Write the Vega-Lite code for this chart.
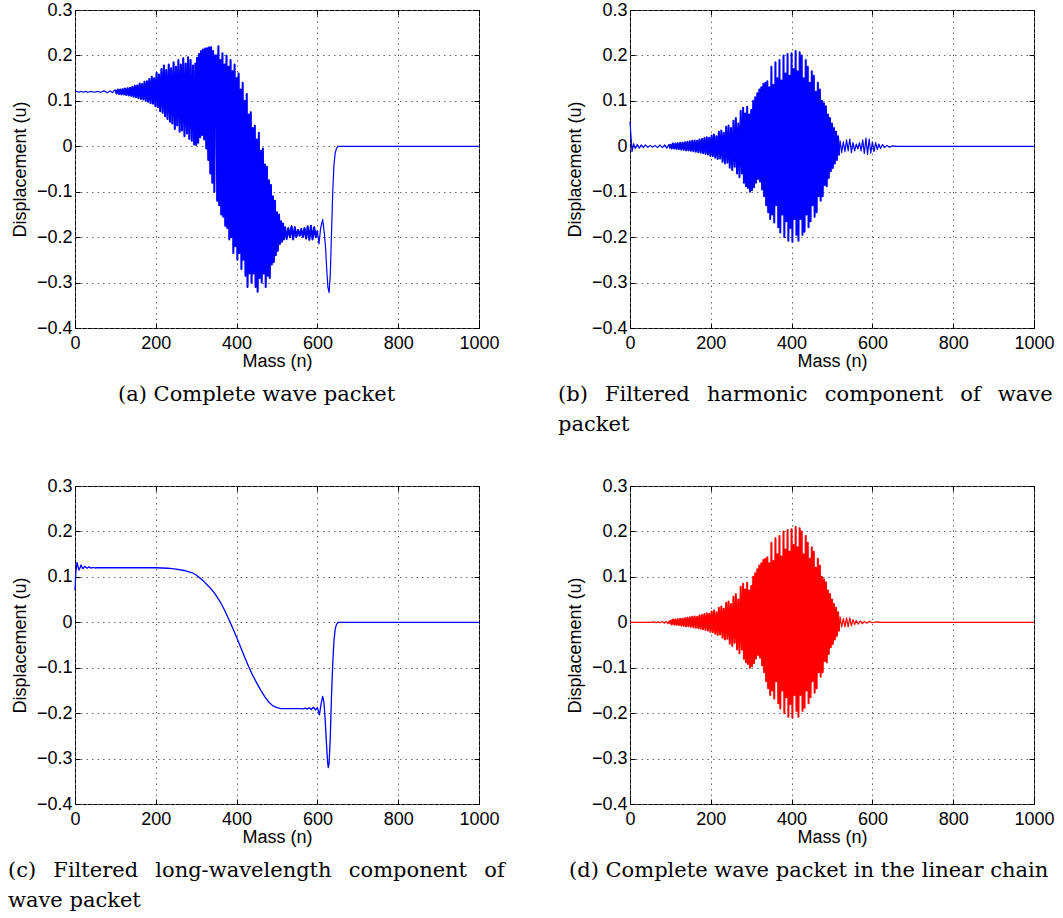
{
"$schema":"https://vega.github.io/schema/vega-lite/v6.json",
"padding":{"left":7,"top":0,"right":0,"bottom":0},
"background":"white",
"config":{
 "view":{"stroke":"#000","strokeWidth":1},
 "axis":{"labelFont":"Liberation Sans","labelFontSize":18,"labelColor":"#000","titleFont":"Liberation Sans","titleFontSize":18,"titleFontWeight":"normal","titleColor":"#000","domain":false,"tickColor":"#000","tickWidth":1,"tickSize":-5,"gridColor":"#666","gridDash":[1.5,4],"gridWidth":1,"labelFlush":false,"labelOverlap":false,"labelBound":false},
 "title":{"orient":"bottom","anchor":"start","frame":"group","font":"DejaVu Serif","fontSize":21,"fontWeight":"normal","color":"#000","offset":14,"lineHeight":30}
},
"datasets":{
"pk":[{"n":100,"u":0.005},{"n":103,"u":-0.005},{"n":106,"u":0.006},{"n":109,"u":-0.005},{"n":112,"u":0.006},{"n":115,"u":-0.006},{"n":118,"u":0.007},{"n":121,"u":-0.006},{"n":124,"u":0.008},{"n":127,"u":-0.007},{"n":130,"u":0.008},{"n":133,"u":-0.008},{"n":136,"u":0.009},{"n":139,"u":-0.009},{"n":142,"u":0.01},{"n":145,"u":-0.009},{"n":148,"u":0.011},{"n":151,"u":-0.01},{"n":154,"u":0.012},{"n":157,"u":-0.011},{"n":160,"u":0.013},{"n":163,"u":-0.012},{"n":166,"u":0.012},{"n":169,"u":-0.013},{"n":172,"u":0.015},{"n":175,"u":-0.014},{"n":178,"u":0.016},{"n":181,"u":-0.015},{"n":184,"u":0.018},{"n":187,"u":-0.017},{"n":190,"u":0.02},{"n":193,"u":-0.018},{"n":196,"u":0.019},{"n":199,"u":-0.021},{"n":202,"u":0.024},{"n":205,"u":-0.022},{"n":208,"u":0.026},{"n":211,"u":-0.025},{"n":214,"u":0.022},{"n":217,"u":-0.028},{"n":220,"u":0.032},{"n":223,"u":-0.027},{"n":226,"u":0.035},{"n":229,"u":-0.034},{"n":232,"u":0.03},{"n":235,"u":-0.038},{"n":238,"u":0.043},{"n":241,"u":-0.036},{"n":244,"u":0.046},{"n":247,"u":-0.047},{"n":250,"u":0.04},{"n":253,"u":-0.052},{"n":256,"u":0.056},{"n":259,"u":-0.045},{"n":262,"u":0.062},{"n":265,"u":-0.06},{"n":268,"u":0.05},{"n":271,"u":-0.068},{"n":274,"u":0.078},{"n":277,"u":-0.06},{"n":280,"u":0.085},{"n":282,"u":-0.08},{"n":285,"u":0.072},{"n":287,"u":-0.088},{"n":290,"u":0.087},{"n":292,"u":-0.092},{"n":295,"u":0.07},{"n":297,"u":-0.1},{"n":300,"u":0.08},{"n":302,"u":-0.097},{"n":305,"u":0.1},{"n":307,"u":-0.09},{"n":310,"u":0.108},{"n":312,"u":-0.08},{"n":315,"u":0.117},{"n":317,"u":-0.072},{"n":320,"u":0.125},{"n":322,"u":-0.078},{"n":325,"u":0.13},{"n":327,"u":-0.095},{"n":330,"u":0.137},{"n":332,"u":-0.11},{"n":335,"u":0.14},{"n":337,"u":-0.13},{"n":340,"u":0.143},{"n":342,"u":-0.145},{"n":345,"u":0.13},{"n":347,"u":-0.16},{"n":350,"u":0.175},{"n":352,"u":-0.15},{"n":355,"u":0.135},{"n":357,"u":-0.168},{"n":360,"u":0.185},{"n":362,"u":-0.13},{"n":365,"u":0.15},{"n":367,"u":-0.178},{"n":370,"u":0.19},{"n":372,"u":-0.19},{"n":375,"u":0.145},{"n":377,"u":-0.15},{"n":380,"u":0.2},{"n":382,"u":-0.2},{"n":385,"u":0.16},{"n":387,"u":-0.165},{"n":390,"u":0.203},{"n":392,"u":-0.208},{"n":395,"u":0.155},{"n":397,"u":-0.18},{"n":400,"u":0.205},{"n":402,"u":-0.21},{"n":405,"u":0.17},{"n":407,"u":-0.16},{"n":410,"u":0.21},{"n":412,"u":-0.195},{"n":415,"u":0.165},{"n":417,"u":-0.208},{"n":420,"u":0.207},{"n":422,"u":-0.16},{"n":425,"u":0.2},{"n":427,"u":-0.195},{"n":430,"u":0.15},{"n":432,"u":-0.188},{"n":435,"u":0.19},{"n":437,"u":-0.15},{"n":440,"u":0.175},{"n":442,"u":-0.178},{"n":445,"u":0.14},{"n":447,"u":-0.165},{"n":450,"u":0.165},{"n":452,"u":-0.13},{"n":455,"u":0.155},{"n":457,"u":-0.155},{"n":460,"u":0.12},{"n":462,"u":-0.145},{"n":465,"u":0.14},{"n":467,"u":-0.11},{"n":470,"u":0.125},{"n":472,"u":-0.12},{"n":475,"u":0.1},{"n":477,"u":-0.11},{"n":480,"u":0.095},{"n":482,"u":-0.085},{"n":485,"u":0.088},{"n":487,"u":-0.088},{"n":490,"u":0.07},{"n":492,"u":-0.07},{"n":495,"u":0.062},{"n":497,"u":-0.055},{"n":500,"u":0.05},{"n":502,"u":-0.048},{"n":505,"u":0.04},{"n":507,"u":-0.038},{"n":510,"u":0.032},{"n":512,"u":-0.03},{"n":515,"u":0.022},{"n":517,"u":-0.02}],
"bt":[{"g":1,"n":0,"u":0.055},{"g":1,"n":5,"u":-0.012},{"g":1,"n":9,"u":0.006},{"g":1,"n":13,"u":-0.005},{"g":1,"n":18,"u":0.004},{"g":1,"n":23,"u":-0.004},{"g":1,"n":28,"u":0.003},{"g":1,"n":33,"u":-0.003},{"g":1,"n":38,"u":0.003},{"g":1,"n":44,"u":-0.002},{"g":1,"n":50,"u":0.002},{"g":1,"n":56,"u":-0.002},{"g":1,"n":62,"u":0.002},{"g":1,"n":68,"u":-0.003},{"g":1,"n":74,"u":0.003},{"g":1,"n":80,"u":-0.003},{"g":1,"n":86,"u":0.003},{"g":1,"n":91,"u":-0.004},{"g":1,"n":96,"u":0.004},{"g":1,"n":98,"u":-0.004},{"g":1,"n":100,"u":0.005},
{"g":2,"n":517,"u":-0.02},{"g":2,"n":520,"u":0.012},{"g":2,"n":524,"u":-0.014},{"g":2,"n":528,"u":0.01},{"g":2,"n":532,"u":-0.012},{"g":2,"n":536,"u":0.014},{"g":2,"n":540,"u":-0.01},{"g":2,"n":544,"u":0.016},{"g":2,"n":548,"u":-0.014},{"g":2,"n":552,"u":0.008},{"g":2,"n":556,"u":-0.01},{"g":2,"n":560,"u":0.005},{"g":2,"n":564,"u":-0.006},{"g":2,"n":568,"u":0.008},{"g":2,"n":572,"u":-0.01},{"g":2,"n":576,"u":0.014},{"g":2,"n":580,"u":-0.016},{"g":2,"n":584,"u":0.018},{"g":2,"n":588,"u":-0.018},{"g":2,"n":592,"u":0.016},{"g":2,"n":596,"u":-0.015},{"g":2,"n":600,"u":0.01},{"g":2,"n":604,"u":-0.012},{"g":2,"n":608,"u":0.008},{"g":2,"n":612,"u":-0.007},{"g":2,"n":616,"u":0.005},{"g":2,"n":620,"u":-0.005},{"g":2,"n":625,"u":0.004},{"g":2,"n":630,"u":-0.003},{"g":2,"n":636,"u":0.002},{"g":2,"n":642,"u":-0.002},{"g":2,"n":650,"u":0.001},{"g":2,"n":660,"u":0},{"g":2,"n":1000,"u":0}],
"dt":[{"g":1,"n":0,"u":0},{"g":1,"n":50,"u":0},{"g":1,"n":60,"u":0.001},{"g":1,"n":65,"u":-0.001},{"g":1,"n":70,"u":0.001},{"g":1,"n":75,"u":-0.001},{"g":1,"n":80,"u":0.002},{"g":1,"n":85,"u":-0.002},{"g":1,"n":90,"u":0.002},{"g":1,"n":94,"u":-0.003},{"g":1,"n":97,"u":0.003},{"g":1,"n":98.5,"u":-0.003},{"g":1,"n":100,"u":0.005},
{"g":2,"n":517,"u":-0.02},{"g":2,"n":520,"u":0.012},{"g":2,"n":524,"u":-0.01},{"g":2,"n":528,"u":0.008},{"g":2,"n":532,"u":-0.01},{"g":2,"n":536,"u":0.01},{"g":2,"n":540,"u":-0.01},{"g":2,"n":544,"u":0.01},{"g":2,"n":548,"u":-0.008},{"g":2,"n":552,"u":0.006},{"g":2,"n":556,"u":-0.005},{"g":2,"n":560,"u":0.004},{"g":2,"n":565,"u":-0.004},{"g":2,"n":570,"u":0.003},{"g":2,"n":575,"u":-0.003},{"g":2,"n":580,"u":0.002},{"g":2,"n":586,"u":-0.002},{"g":2,"n":592,"u":0.002},{"g":2,"n":600,"u":-0.001},{"g":2,"n":610,"u":0.001},{"g":2,"n":620,"u":0},{"g":2,"n":1000,"u":0}],
"a":[{"n":0,"u":0.12},{"n":5,"u":0.121},{"n":10,"u":0.119},{"n":15,"u":0.121},{"n":20,"u":0.119},{"n":26,"u":0.121},{"n":32,"u":0.119},{"n":40,"u":0.121},{"n":48,"u":0.119},{"n":56,"u":0.121},{"n":64,"u":0.119},{"n":72,"u":0.122},{"n":80,"u":0.118},{"n":87,"u":0.122},{"n":93,"u":0.118},{"n":97,"u":0.123},
{"n":100,"u":0.124},{"n":103,"u":0.116},{"n":106,"u":0.125},{"n":109,"u":0.115},{"n":112,"u":0.125},{"n":115,"u":0.114},{"n":118,"u":0.126},{"n":121,"u":0.114},{"n":124,"u":0.127},{"n":127,"u":0.113},{"n":130,"u":0.128},{"n":133,"u":0.112},{"n":136,"u":0.129},{"n":139,"u":0.111},{"n":142,"u":0.131},{"n":145,"u":0.109},{"n":148,"u":0.133},{"n":151,"u":0.108},{"n":154,"u":0.134},{"n":157,"u":0.106},{"n":160,"u":0.138},{"n":163,"u":0.104},{"n":166,"u":0.137},{"n":169,"u":0.103},{"n":172,"u":0.142},{"n":175,"u":0.1},{"n":178,"u":0.143},{"n":181,"u":0.098},{"n":184,"u":0.148},{"n":187,"u":0.095},{"n":190,"u":0.153},{"n":193,"u":0.094},{"n":196,"u":0.15},{"n":199,"u":0.088},{"n":202,"u":0.162},{"n":205,"u":0.086},{"n":208,"u":0.158},{"n":211,"u":0.077},{"n":214,"u":0.17},{"n":217,"u":0.074},{"n":220,"u":0.178},{"n":223,"u":0.066},{"n":226,"u":0.168},{"n":229,"u":0.06},{"n":232,"u":0.18},{"n":235,"u":0.054},{"n":238,"u":0.172},{"n":241,"u":0.05},{"n":244,"u":0.185},{"n":247,"u":0.038},{"n":250,"u":0.175},{"n":253,"u":0.046},{"n":256,"u":0.19},{"n":259,"u":0.032},{"n":262,"u":0.18},{"n":265,"u":0.035},{"n":268,"u":0.194},{"n":271,"u":0.022},{"n":274,"u":0.182},{"n":277,"u":0.028},{"n":280,"u":0.196},{"n":283,"u":0.016},{"n":286,"u":0.19},{"n":289,"u":0.012},{"n":292,"u":0.178},{"n":295,"u":0.004},{"n":298,"u":0.182},
{"n":300,"u":0.003},{"n":302,"u":0.195},{"n":305,"u":0.008},{"n":307,"u":0.203},{"n":310,"u":0.02},{"n":312,"u":0.21},{"n":315,"u":0.025},{"n":317,"u":0.213},{"n":320,"u":0.015},{"n":322,"u":0.215},{"n":325,"u":-0.005},{"n":327,"u":0.216},{"n":330,"u":-0.03},{"n":332,"u":0.218},{"n":335,"u":-0.06},{"n":337,"u":0.218},{"n":340,"u":-0.08},{"n":342,"u":0.21},{"n":345,"u":-0.1},{"n":347,"u":0.2},
{"n":350,"u":0.2},{"n":352,"u":-0.12},{"n":355,"u":0.22},{"n":357,"u":-0.13},{"n":360,"u":0.19},{"n":362,"u":-0.15},{"n":365,"u":0.205},{"n":367,"u":-0.155},{"n":370,"u":0.18},{"n":372,"u":-0.175},{"n":375,"u":0.2},{"n":377,"u":-0.18},{"n":380,"u":0.175},{"n":382,"u":-0.205},{"n":385,"u":0.19},{"n":387,"u":-0.2},{"n":390,"u":0.165},{"n":392,"u":-0.235},{"n":395,"u":0.18},{"n":397,"u":-0.22},{"n":400,"u":0.15},{"n":402,"u":-0.25},{"n":405,"u":0.16},{"n":407,"u":-0.235},{"n":410,"u":0.125},{"n":412,"u":-0.27},{"n":415,"u":0.14},{"n":417,"u":-0.25},{"n":420,"u":0.1},{"n":422,"u":-0.285},{"n":425,"u":0.115},{"n":427,"u":-0.31},{"n":430,"u":0.07},{"n":432,"u":-0.28},{"n":435,"u":0.075},{"n":437,"u":-0.3},{"n":440,"u":0.04},{"n":442,"u":-0.28},{"n":445,"u":0.045},{"n":447,"u":-0.31},{"n":450,"u":0.015},{"n":452,"u":-0.32},{"n":455,"u":0.03},{"n":457,"u":-0.29},{"n":460,"u":-0.01},{"n":462,"u":-0.3},{"n":465,"u":-0.005},{"n":467,"u":-0.28},{"n":470,"u":-0.04},{"n":472,"u":-0.31},{"n":475,"u":-0.045},{"n":477,"u":-0.285},{"n":480,"u":-0.075},{"n":482,"u":-0.29},{"n":485,"u":-0.085},{"n":487,"u":-0.26},{"n":490,"u":-0.11},{"n":492,"u":-0.255},{"n":495,"u":-0.12},{"n":497,"u":-0.24},{"n":500,"u":-0.145},{"n":502,"u":-0.23},{"n":505,"u":-0.15},{"n":507,"u":-0.215},{"n":510,"u":-0.165},{"n":512,"u":-0.21},{"n":515,"u":-0.17},{"n":517,"u":-0.205},
{"n":520,"u":-0.178},{"n":524,"u":-0.204},{"n":528,"u":-0.18},{"n":532,"u":-0.2},{"n":536,"u":-0.176},{"n":540,"u":-0.205},{"n":544,"u":-0.178},{"n":548,"u":-0.2},{"n":552,"u":-0.184},{"n":556,"u":-0.197},{"n":560,"u":-0.182},{"n":564,"u":-0.2},{"n":568,"u":-0.18},{"n":572,"u":-0.203},{"n":576,"u":-0.176},{"n":580,"u":-0.206},{"n":584,"u":-0.175},{"n":588,"u":-0.205},{"n":592,"u":-0.178},{"n":596,"u":-0.2},{"n":600,"u":-0.186},{"n":604,"u":-0.215},{"n":608,"u":-0.18},{"n":613,"u":-0.161},{"n":617,"u":-0.19},{"n":620,"u":-0.22},{"n":623,"u":-0.27},{"n":626,"u":-0.31},{"n":629,"u":-0.322},{"n":632,"u":-0.28},{"n":635,"u":-0.19},{"n":638,"u":-0.1},{"n":641,"u":-0.04},{"n":644,"u":-0.015},{"n":647,"u":-0.005},{"n":651,"u":0},{"n":660,"u":0},{"n":1000,"u":0}],
"c":[{"n":0,"u":0.07},{"n":2,"u":0.11},{"n":5,"u":0.132},{"n":8,"u":0.121},{"n":10,"u":0.115},{"n":12,"u":0.119},{"n":15,"u":0.126},{"n":18,"u":0.12},{"n":20,"u":0.118},{"n":23,"u":0.122},{"n":25,"u":0.123},{"n":28,"u":0.12},{"n":30,"u":0.119},{"n":33,"u":0.121},{"n":35,"u":0.122},{"n":38,"u":0.12},{"n":41,"u":0.1195},{"n":45,"u":0.121},{"n":50,"u":0.1195},{"n":55,"u":0.1205},{"n":62,"u":0.12},{"n":100,"u":0.12},{"n":200,"u":0.12},{"n":230,"u":0.119},{"n":250,"u":0.117},{"n":270,"u":0.114},{"n":290,"u":0.109},{"n":300,"u":0.104},{"n":310,"u":0.097},{"n":320,"u":0.089},{"n":330,"u":0.08},{"n":340,"u":0.07},{"n":350,"u":0.058},{"n":360,"u":0.044},{"n":370,"u":0.027},{"n":380,"u":0.008},{"n":390,"u":-0.012},{"n":400,"u":-0.033},{"n":410,"u":-0.055},{"n":420,"u":-0.077},{"n":430,"u":-0.098},{"n":440,"u":-0.117},{"n":450,"u":-0.134},{"n":460,"u":-0.15},{"n":470,"u":-0.164},{"n":480,"u":-0.176},{"n":490,"u":-0.184},{"n":500,"u":-0.188},{"n":510,"u":-0.19},{"n":560,"u":-0.19},{"n":565,"u":-0.1905},{"n":570,"u":-0.189},{"n":575,"u":-0.191},{"n":580,"u":-0.188},{"n":585,"u":-0.192},{"n":590,"u":-0.187},{"n":595,"u":-0.193},{"n":600,"u":-0.188},{"n":605,"u":-0.204},{"n":609,"u":-0.18},{"n":613,"u":-0.163},{"n":616,"u":-0.175},{"n":619,"u":-0.21},{"n":622,"u":-0.26},{"n":625,"u":-0.305},{"n":627,"u":-0.32},{"n":629,"u":-0.31},{"n":632,"u":-0.25},{"n":635,"u":-0.16},{"n":638,"u":-0.09},{"n":641,"u":-0.04},{"n":644,"u":-0.015},{"n":647,"u":-0.005},{"n":651,"u":0},{"n":1000,"u":0}]
},
"columns":2,
"spacing":{"row":158,"column":151},
"bounds":"flush",
"concat":[
{"width":404,"height":318,
 "title":{"text":"(a) Complete wave packet","dx":43},
 "layer":[
  {"data":{"name":"a"},"mark":{"type":"line","color":"#0000ff","strokeWidth":1.2,"strokeJoin":"round"},
   "encoding":{"x":{"field":"n","type":"quantitative","scale":{"domain":[0,1000],"nice":false,"zero":false},"axis":{"orient":"bottom","values":[0,200,400,600,800,1000],"format":"d","title":"Mass (n)","labelPadding":11,"titlePadding":0,"grid":true}},
               "y":{"field":"u","type":"quantitative","scale":{"domain":[-0.4,0.3],"nice":false,"zero":false},"axis":{"orient":"left","values":[-0.4,-0.3,-0.2,-0.1,0,0.1,0.2,0.3],"labelExpr":"datum.value == 0 ? '0' : format(datum.value, '.1f')","title":"Displacement (u)","labelPadding":8,"titlePadding":7,"grid":true}}}},
  {"data":{"name":"a"},"transform":[{"filter":"datum.n >= 100 && datum.n <= 600"}],"mark":{"type":"line","color":"#0000ff","strokeWidth":2,"strokeJoin":"round"},
   "encoding":{"x":{"field":"n","type":"quantitative","axis":null},"y":{"field":"u","type":"quantitative","axis":null}}},
  {"data":{"values":[{"n":0,"u":0}]},"mark":{"type":"point","opacity":0},
   "encoding":{"x":{"field":"n","type":"quantitative","scale":{"domain":[0,1000],"nice":false,"zero":false},"axis":{"orient":"top","values":[0,200,400,600,800,1000],"labels":false,"title":null,"grid":false}},
               "y":{"field":"u","type":"quantitative","scale":{"domain":[-0.4,0.3],"nice":false,"zero":false},"axis":{"orient":"right","values":[-0.4,-0.3,-0.2,-0.1,0,0.1,0.2,0.3],"labels":false,"title":null,"grid":false}}}}
 ],
 "resolve":{"axis":{"x":"independent","y":"independent"}}},
{"width":404,"height":318,
 "title":{"text":["(b)\u2002 Filtered\u2002 harmonic\u2002 component\u2002 of\u2002 wave","packet"],"dx":-72},
 "layer":[
  {"data":{"name":"pk"},"mark":{"type":"line","color":"#0000ff","strokeWidth":2,"strokeJoin":"round"},
   "encoding":{"x":{"field":"n","type":"quantitative","scale":{"domain":[0,1000],"nice":false,"zero":false},"axis":{"orient":"bottom","values":[0,200,400,600,800,1000],"format":"d","title":"Mass (n)","labelPadding":11,"titlePadding":0,"grid":true}},
               "y":{"field":"u","type":"quantitative","scale":{"domain":[-0.4,0.3],"nice":false,"zero":false},"axis":{"orient":"left","values":[-0.4,-0.3,-0.2,-0.1,0,0.1,0.2,0.3],"labelExpr":"datum.value == 0 ? '0' : format(datum.value, '.1f')","title":"Displacement (u)","labelPadding":8,"titlePadding":7,"grid":true}}}},
  {"data":{"name":"bt"},"mark":{"type":"line","color":"#0000ff","strokeWidth":1.2,"strokeJoin":"round"},
   "encoding":{"x":{"field":"n","type":"quantitative","axis":null},"y":{"field":"u","type":"quantitative","axis":null},"detail":{"field":"g"}}},
  {"data":{"values":[{"n":0,"u":0}]},"mark":{"type":"point","opacity":0},
   "encoding":{"x":{"field":"n","type":"quantitative","scale":{"domain":[0,1000],"nice":false,"zero":false},"axis":{"orient":"top","values":[0,200,400,600,800,1000],"labels":false,"title":null,"grid":false}},
               "y":{"field":"u","type":"quantitative","scale":{"domain":[-0.4,0.3],"nice":false,"zero":false},"axis":{"orient":"right","values":[-0.4,-0.3,-0.2,-0.1,0,0.1,0.2,0.3],"labels":false,"title":null,"grid":false}}}}
 ],
 "resolve":{"axis":{"x":"independent","y":"independent"}}},
{"width":404,"height":318,
 "title":{"text":["(c)\u2002 Filtered\u2002 long-wavelength\u2002 component\u2002 of","wave packet"],"dx":-67},
 "layer":[
  {"data":{"name":"c"},"mark":{"type":"line","color":"#0000ff","strokeWidth":1.3,"strokeJoin":"round"},
   "encoding":{"x":{"field":"n","type":"quantitative","scale":{"domain":[0,1000],"nice":false,"zero":false},"axis":{"orient":"bottom","values":[0,200,400,600,800,1000],"format":"d","title":"Mass (n)","labelPadding":11,"titlePadding":0,"grid":true}},
               "y":{"field":"u","type":"quantitative","scale":{"domain":[-0.4,0.3],"nice":false,"zero":false},"axis":{"orient":"left","values":[-0.4,-0.3,-0.2,-0.1,0,0.1,0.2,0.3],"labelExpr":"datum.value == 0 ? '0' : format(datum.value, '.1f')","title":"Displacement (u)","labelPadding":8,"titlePadding":7,"grid":true}}}},
  {"data":{"values":[{"n":0,"u":0}]},"mark":{"type":"point","opacity":0},
   "encoding":{"x":{"field":"n","type":"quantitative","scale":{"domain":[0,1000],"nice":false,"zero":false},"axis":{"orient":"top","values":[0,200,400,600,800,1000],"labels":false,"title":null,"grid":false}},
               "y":{"field":"u","type":"quantitative","scale":{"domain":[-0.4,0.3],"nice":false,"zero":false},"axis":{"orient":"right","values":[-0.4,-0.3,-0.2,-0.1,0,0.1,0.2,0.3],"labels":false,"title":null,"grid":false}}}}
 ],
 "resolve":{"axis":{"x":"independent","y":"independent"}}},
{"width":404,"height":318,
 "title":{"text":"(d) Complete wave packet in the linear chain","dx":-61},
 "layer":[
  {"data":{"name":"pk"},"mark":{"type":"line","color":"#ff0000","strokeWidth":2,"strokeJoin":"round"},
   "encoding":{"x":{"field":"n","type":"quantitative","scale":{"domain":[0,1000],"nice":false,"zero":false},"axis":{"orient":"bottom","values":[0,200,400,600,800,1000],"format":"d","title":"Mass (n)","labelPadding":11,"titlePadding":0,"grid":true}},
               "y":{"field":"u","type":"quantitative","scale":{"domain":[-0.4,0.3],"nice":false,"zero":false},"axis":{"orient":"left","values":[-0.4,-0.3,-0.2,-0.1,0,0.1,0.2,0.3],"labelExpr":"datum.value == 0 ? '0' : format(datum.value, '.1f')","title":"Displacement (u)","labelPadding":8,"titlePadding":7,"grid":true}}}},
  {"data":{"name":"dt"},"mark":{"type":"line","color":"#ff0000","strokeWidth":1.2,"strokeJoin":"round"},
   "encoding":{"x":{"field":"n","type":"quantitative","axis":null},"y":{"field":"u","type":"quantitative","axis":null},"detail":{"field":"g"}}},
  {"data":{"values":[{"n":0,"u":0}]},"mark":{"type":"point","opacity":0},
   "encoding":{"x":{"field":"n","type":"quantitative","scale":{"domain":[0,1000],"nice":false,"zero":false},"axis":{"orient":"top","values":[0,200,400,600,800,1000],"labels":false,"title":null,"grid":false}},
               "y":{"field":"u","type":"quantitative","scale":{"domain":[-0.4,0.3],"nice":false,"zero":false},"axis":{"orient":"right","values":[-0.4,-0.3,-0.2,-0.1,0,0.1,0.2,0.3],"labels":false,"title":null,"grid":false}}}}
 ],
 "resolve":{"axis":{"x":"independent","y":"independent"}}}
]
}
